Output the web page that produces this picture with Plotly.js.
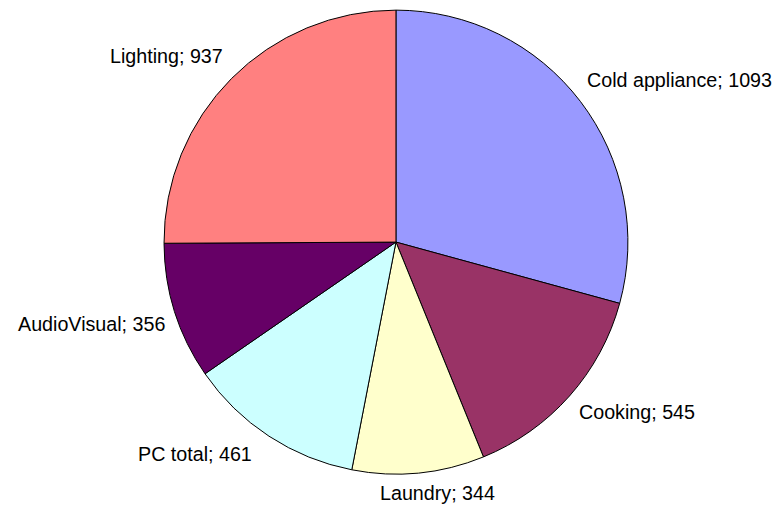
<!DOCTYPE html>
<html>
<head>
<meta charset="utf-8">
<script src="https://cdn.plot.ly/plotly-3.0.1.min.js"></script>
<style>html,body{margin:0;padding:0;background:#fff;}#chart{width:782px;height:507px;}</style>
</head>
<body>
<div id="chart"></div>
<script>
const categories = ["Cold appliance", "Cooking", "Laundry", "PC total", "AudioVisual", "Lighting"];
const values = [1093, 545, 344, 461, 356, 937];
const colors = ["#9999FF", "#993366", "#FFFFCC", "#CCFFFF", "#660066", "#FF8080"];

const W = 782, H = 507;
const domX = [0.2097, 0.803], domY = [0.065, 0.98];
// label placement tweaks (layout only)
const labelGap = 11;
const labelShiftX = [-3, 0, 18, -10, 2, 0];

const trace = {
  type: "pie",
  labels: categories,
  values: values,
  sort: false,
  direction: "clockwise",
  rotation: 0,
  marker: {colors: colors, line: {color: "#000000", width: 1}},
  textinfo: "none",
  hoverinfo: "label+value",
  domain: {x: domX, y: domY},
  automargin: false
};

// Place outside labels from the data: mid-angle of each slice
const total = values.reduce((a, b) => a + b, 0);
const cx = (domX[0] + domX[1]) / 2 * W;
const cy = (1 - (domY[0] + domY[1]) / 2) * H;
const R = Math.min((domX[1] - domX[0]) * W, (domY[1] - domY[0]) * H) / 2;
let cum = 0;
const annotations = values.map((v, i) => {
  const mid = (cum + v / 2) / total * 2 * Math.PI;
  cum += v;
  const s = Math.sin(mid), c = Math.cos(mid);
  const px = cx + s * (R + labelGap) + labelShiftX[i];
  const py = cy - c * (R + labelGap) - 3;
  let xanchor = Math.abs(s) < 0.3 ? "center" : (s > 0 ? "left" : "right");
  let yanchor = c > 0 ? "bottom" : "top";
  return {
    xref: "paper", yref: "paper",
    x: px / W, y: 1 - py / H,
    xanchor: xanchor, yanchor: yanchor,
    text: categories[i] + "; " + v,
    showarrow: false,
    font: {family: "Liberation Sans, Arial, sans-serif", size: 19.7, color: "#000000"},
    borderpad: 0
  };
});

const layout = {
  width: W,
  height: H,
  margin: {l: 0, r: 0, t: 0, b: 0},
  showlegend: false,
  paper_bgcolor: "#ffffff",
  plot_bgcolor: "#ffffff",
  annotations: annotations
};

Plotly.newPlot("chart", [trace], layout, {displayModeBar: false, staticPlot: true});
</script>
</body>
</html>
